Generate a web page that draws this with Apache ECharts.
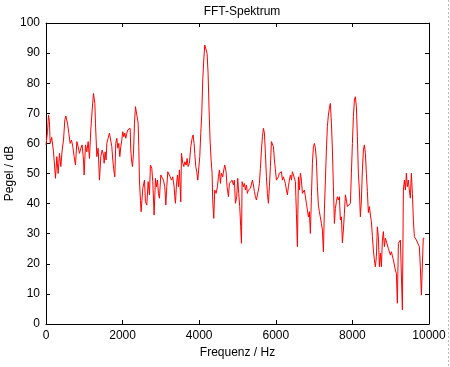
<!DOCTYPE html>
<html>
<head>
<meta charset="utf-8">
<script src="https://cdn.jsdelivr.net/npm/echarts@6/dist/echarts.min.js"></script>
<style>
html,body{margin:0;padding:0;background:#fff;}
#c{width:450px;height:367px;}
</style>
</head>
<body>
<div id="c"></div>
<script>
var titleText = 'FFT-Spektrum';
var xName = 'Frequenz / Hz';
var yName = 'Pegel / dB';
var xTicks = [0, 2000, 4000, 6000, 8000, 10000];
var yTicks = [0, 10, 20, 30, 40, 50, 60, 70, 80, 90, 100];

var freq = [0,40,65,90,109,150,196,248,283,318,352,387,422,457,492,518,561,596,631,666,700,735,770,805,840,875,909,944,979,996,1031,1066,1101,1135,1170,1205,1240,1275,1292,1327,1362,1396,1431,1466,1501,1518,1544,1570,1588,1622,1657,1692,1718,1744,1770,1796,1822,1849,1875,1901,1927,1953,1979,2005,2031,2057,2084,2110,2136,2162,2197,2214,2232,2258,2284,2310,2336,2388,2406,2423,2440,2466,2484,2527,2571,2597,2632,2667,2701,2727,2762,2788,2823,2858,2884,2910,2936,2962,2997,3032,3067,3102,3128,3154,3180,3206,3241,3276,3310,3345,3363,3380,3406,3432,3458,3484,3519,3537,3572,3598,3624,3658,3684,3711,3745,3780,3815,3841,3867,3884,3910,3936,3963,3989,4015,4041,4067,4093,4119,4145,4180,4206,4232,4258,4284,4311,4337,4354,4380,4406,4441,4476,4502,4528,4554,4580,4615,4641,4667,4702,4728,4763,4789,4824,4858,4893,4919,4946,4980,5006,5032,5058,5084,5103,5120,5155,5181,5207,5233,5259,5285,5311,5338,5364,5390,5416,5442,5468,5494,5520,5546,5572,5598,5625,5651,5677,5703,5729,5755,5781,5807,5833,5859,5886,5912,5938,5964,5990,6016,6042,6068,6094,6120,6147,6173,6199,6225,6251,6277,6303,6329,6355,6382,6408,6434,6460,6486,6512,6538,6564,6590,6616,6642,6669,6695,6721,6747,6773,6799,6825,6851,6877,6903,6930,6956,6982,7008,7034,7060,7086,7112,7138,7164,7191,7217,7243,7269,7295,7321,7347,7373,7399,7425,7452,7478,7504,7530,7556,7582,7608,7634,7660,7686,7713,7739,7765,7791,7817,7843,7869,7895,7921,7947,7974,8000,8026,8052,8078,8104,8130,8156,8182,8208,8235,8261,8287,8313,8339,8365,8391,8417,8444,8470,8496,8522,8548,8574,8600,8626,8652,8678,8705,8731,8757,8783,8809,8835,8861,8887,8913,8939,8966,8992,9018,9044,9070,9096,9122,9148,9174,9200,9227,9253,9279,9305,9331,9357,9383,9409,9435,9461,9487,9513,9540,9566,9592,9618,9644,9670,9696,9722,9748,9774,9801,9827,9850,9880];

var pegel = [59.5,64,69.4,67.2,60,62,57.2,48.4,55.6,50,56.7,52.3,57.8,61.1,67.8,69.1,66.7,63.4,60,61.1,58.9,55.6,52.8,60.6,58.9,56.7,58.4,59.5,54.5,49.5,59.5,57.2,60.6,55,64.5,71.1,76.6,73.3,66.7,55.6,58.4,47.8,55.6,57.8,56.1,53.4,57.2,54.5,60,61.7,63.4,63.9,58.9,54.5,51.2,48.9,60,61.7,58.4,60,55.6,58.9,61.1,63.9,62.2,63.4,61.7,63.4,64.5,64.7,65,57.8,54.5,52.3,56.7,66.7,72.2,72.2,66.7,58.9,47.8,41,37.3,45.1,47.8,40.6,39.5,47.3,42.9,52.8,51.7,47.3,36.2,48.4,45.6,47.8,43.4,41.8,49.5,48.9,47.8,45.6,39.5,45.6,50.6,50.1,48.9,47.8,48.9,45.6,42.3,40.1,46.2,49.5,45.6,51.2,40.6,56.7,53.4,52.3,53.9,52.8,55,52.3,53.4,58.9,61.7,62.8,60,56.7,52.3,50.6,47.8,47.3,55.6,63.4,70,81.1,87.7,92.7,93,89.9,83.3,71.1,61.1,54.5,50.1,40.6,35.1,44.5,43.4,45.6,48.9,51.2,46.7,50.1,48.9,51.2,52.8,50.6,45.6,42.3,46.7,47.3,47.8,46.2,47.8,40.1,42.3,48.4,43.4,39,32.3,26.8,47.3,45.6,46.7,44.5,46.2,43.4,44.5,44,45.1,44.5,47.8,46.2,44,42.3,41.2,42.9,44.5,46.7,51.7,57.8,62.2,65,63.4,56.7,48.9,43.4,40.1,45.6,52.3,60.6,61.1,58.9,54.5,51.2,47.8,48.4,48.9,50.1,49.5,50.6,47.8,48.9,47.8,46.7,44.5,42.9,45.6,47.8,49.5,47.8,50.6,51.2,50.1,47.3,36.8,25.7,48.9,44.5,50.1,47.8,43.4,43.4,44.5,45.1,40.1,39.5,35.6,37.3,30.1,42.3,53.4,58.9,60,58.4,54.5,45.6,39.5,37.3,37.9,33.4,31.2,24,37.9,47.8,57.8,65.6,69.4,71.7,73.3,66.7,57.8,45.6,33.4,38.4,40.6,42.3,41.2,42.3,34.6,35.6,27,31.2,36.8,42.9,41.2,39,39.5,38.4,40.1,50.1,60,68.9,74.4,75.5,72.2,62.2,50.1,44.5,35.6,41.2,51.2,57.8,59.5,56.7,50,44,37,39,36.2,34,29,24.6,21.3,19,22.4,32.3,29,19,23.5,19,27.9,30.7,25.7,28.5,28.5,27.9,25.1,24.6,22.9,24,24.6,21.3,21.3,17.9,16.8,6.9,26.8,27.3,27.9,27.3,4.7,44.5,47.8,44.5,50.1,45.6,47.8,44.5,41.8,50.1,43.4,34.6,29,29,27.9,28.5,27.9,25.7,19,9.6,9.6,28.5,28.5];

var seriesData = freq.map(function (f, i) { return [f, pegel[i]]; });

var FONT = 'Liberation Sans';
var chart = echarts.init(document.getElementById('c'), null, {renderer: 'canvas'});

function mkAxisCommon() {
  return {
    axisLine: {show: true, onZero: false, lineStyle: {color: '#000', width: 1}},
    axisTick: {show: true, inside: true, length: 4, lineStyle: {color: '#000'}},
    splitLine: {show: false}
  };
}
function plain(v) { return String(v); }

var xMain = Object.assign(mkAxisCommon(), {
  type: 'value', min: xTicks[0], max: xTicks[xTicks.length - 1], interval: xTicks[1] - xTicks[0],
  position: 'bottom',
  name: xName, nameLocation: 'middle', nameGap: 22,
  nameTextStyle: {color: '#000', fontFamily: FONT, fontSize: 12},
  axisLabel: {color: '#000', fontFamily: FONT, fontSize: 12, margin: 6, formatter: plain}
});
var xTop = Object.assign(mkAxisCommon(), {
  type: 'value', min: xTicks[0], max: xTicks[xTicks.length - 1], interval: xTicks[1] - xTicks[0],
  position: 'top', axisLabel: {show: false}
});
var yMain = Object.assign(mkAxisCommon(), {
  type: 'value', min: yTicks[0], max: yTicks[yTicks.length - 1], interval: yTicks[1] - yTicks[0],
  position: 'left',
  name: yName, nameLocation: 'middle', nameGap: 36, nameRotate: 90, nameMoveOverlap: false,
  nameTextStyle: {color: '#000', fontFamily: FONT, fontSize: 12, verticalAlign: 'middle'},
  axisLabel: {color: '#000', fontFamily: FONT, fontSize: 12, margin: 6, formatter: plain}
});
var yRight = Object.assign(mkAxisCommon(), {
  type: 'value', min: yTicks[0], max: yTicks[yTicks.length - 1], interval: yTicks[1] - yTicks[0],
  position: 'right', axisLabel: {show: false}
});

chart.setOption({
  animation: false,
  backgroundColor: '#fff',
  title: {
    text: titleText, left: 237, top: 1, textAlign: 'center',
    textStyle: {color: '#000', fontFamily: FONT, fontSize: 12, fontWeight: 'normal'}
  },
  grid: {left: 46, right: 21, top: 23, bottom: 43, containLabel: false, outerBoundsMode: 'none'},
  xAxis: [xMain, xTop],
  yAxis: [yMain, yRight],
  series: [{
    type: 'line', xAxisIndex: 0, yAxisIndex: 0,
    data: seriesData, showSymbol: false, symbol: 'none',
    lineStyle: {color: '#ff0000', width: 1}, smooth: false
  }],
  graphic: [{
    type: 'line', shape: {x1: 448.5, y1: 0, x2: 448.5, y2: 367},
    style: {stroke: '#bbbbbb', lineWidth: 1, lineDash: [2, 2]}
  }]
});
</script>
</body>
</html>
